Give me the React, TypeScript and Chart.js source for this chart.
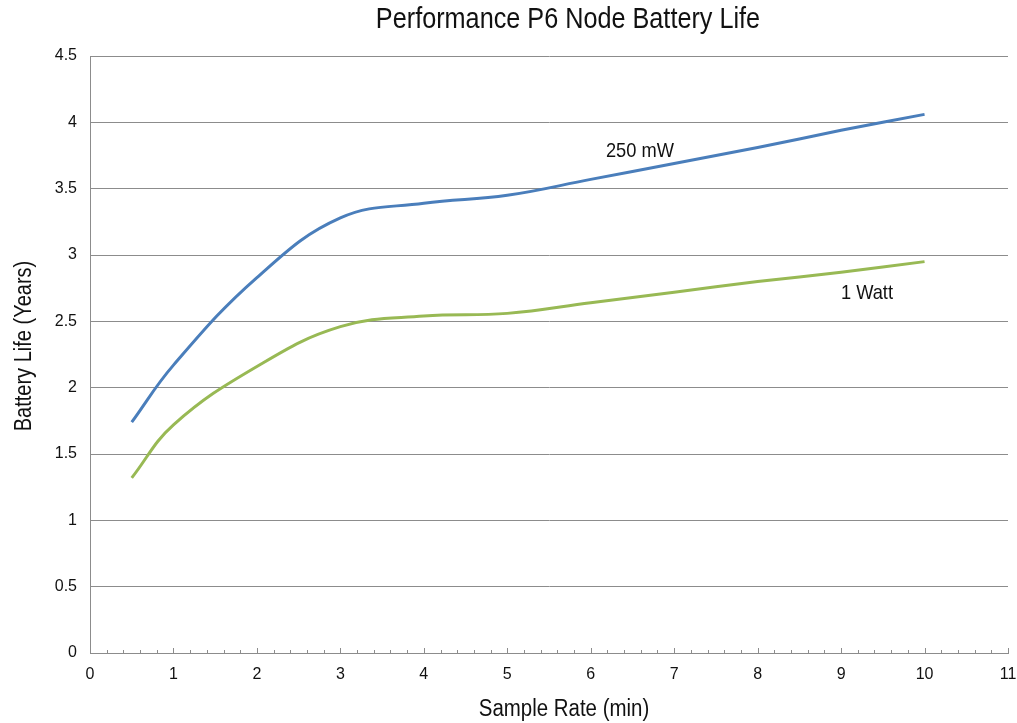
import React, { useEffect, useRef } from "react";
import { Chart, registerables } from "chart.js";

Chart.register(...registerables);

const sampleRates = [0.5, 1, 2, 3, 4, 5, 6, 7, 8, 9, 10];
const life250mW = [1.74, 2.17, 2.83, 3.28, 3.39, 3.45, 3.57, 3.69, 3.81, 3.94, 4.06];
const life1Watt = [1.32, 1.72, 2.16, 2.46, 2.54, 2.56, 2.64, 2.72, 2.80, 2.87, 2.95];
const seriesNames = ["250 mW", "1 Watt"];
const labelPositions = [
  { x: 6.59, y: 3.74 },
  { x: 9.31, y: 2.67 },
];
const chartTitle = "Performance P6 Node Battery Life";
const xTitle = "Sample Rate (min)";
const yTitle = "Battery Life (Years)";

const FONT = "'Liberation Sans', Arial, sans-serif";
const NARROW = 0.87;

function narrowText(ctx: any, text: string, x: number, y: number, size: number, rot = 0) {
  ctx.save();
  ctx.translate(x, y);
  if (rot) ctx.rotate(rot);
  ctx.scale(NARROW, 1);
  ctx.font = `${size}px ${FONT}`;
  ctx.textAlign = "center";
  ctx.textBaseline = "alphabetic";
  ctx.fillStyle = "#111";
  ctx.fillText(text, 0, 0);
  ctx.restore();
}

const extrasPlugin = {
  id: "extras",
  afterDraw(chart: any) {
    const { ctx, scales } = chart;
    const xs = scales.x;
    const ys = scales.y;
    ctx.save();
    // minor ticks on x axis, pointing up
    ctx.strokeStyle = "#8c8c8c";
    ctx.lineWidth = 1;
    const bottom = ys.getPixelForValue(0);
    for (let i = 0; i <= 55; i++) {
      const v = i * 0.2;
      const px = Math.round(xs.getPixelForValue(v)) + 0.5;
      const len = i % 5 === 0 ? 5 : 3;
      ctx.beginPath();
      ctx.moveTo(px, bottom);
      ctx.lineTo(px, bottom - len);
      ctx.stroke();
    }
    ctx.restore();
    // series labels
    seriesNames.forEach((n, i) => {
      const p = labelPositions[i];
      narrowText(ctx, n, xs.getPixelForValue(p.x), ys.getPixelForValue(p.y), 21);
    });
    // titles
    narrowText(ctx, chartTitle, 568, 28, 29);
    narrowText(ctx, xTitle, 564, 716, 23.5);
    narrowText(ctx, yTitle, 31, 346, 23, -Math.PI / 2);
  },
};

export default function App() {
  const ref = useRef<HTMLCanvasElement>(null);
  useEffect(() => {
    if (!ref.current) return;
    const chart = new Chart(ref.current, {
      type: "line",
      data: {
        datasets: [
          {
            label: seriesNames[0],
            data: sampleRates.map((x, i) => ({ x, y: life250mW[i] })),
            borderColor: "#4a7ebb",
            borderWidth: 3,
            pointRadius: 0,
            tension: 0.4,
            fill: false,
          },
          {
            label: seriesNames[1],
            data: sampleRates.map((x, i) => ({ x, y: life1Watt[i] })),
            borderColor: "#98b954",
            borderWidth: 3,
            pointRadius: 0,
            tension: 0.4,
            fill: false,
          },
        ],
      },
      options: {
        animation: false,
        responsive: true,
        maintainAspectRatio: false,
        layout: { padding: { left: 0, right: 0, top: 56, bottom: 0 } },
        plugins: {
          legend: { display: false },
          tooltip: { enabled: false },
          title: { display: false },
        },
        scales: {
          x: {
            type: "linear",
            min: 0,
            max: 11,
            afterFit: (s: any) => {
              s.height = 70;
              s.paddingRight = 9;
              s.paddingLeft = 0;
            },
            ticks: {
              stepSize: 1,
              color: "#111",
              font: { family: FONT, size: 16 },
              padding: 12,
              maxRotation: 0,
            },
            grid: { display: false, drawTicks: false },
            border: { display: true, color: "#8c8c8c", width: 1 },
          },
          y: {
            min: 0,
            max: 4.5,
            afterFit: (s: any) => {
              s.width = 90;
            },
            ticks: {
              stepSize: 0.5,
              color: "#111",
              font: { family: FONT, size: 16 },
              padding: 13,
              callback: (v: any) => String(v),
            },
            grid: { color: "#8c8c8c", lineWidth: 1, drawTicks: false },
            border: { display: true, color: "#8c8c8c", width: 1 },
          },
        },
      },
      plugins: [extrasPlugin],
    });
    return () => chart.destroy();
  }, []);
  return (
    <div style={{ position: "absolute", left: 0, top: 0, width: 1017, height: 723 }}>
      <canvas ref={ref} />
    </div>
  );
}
